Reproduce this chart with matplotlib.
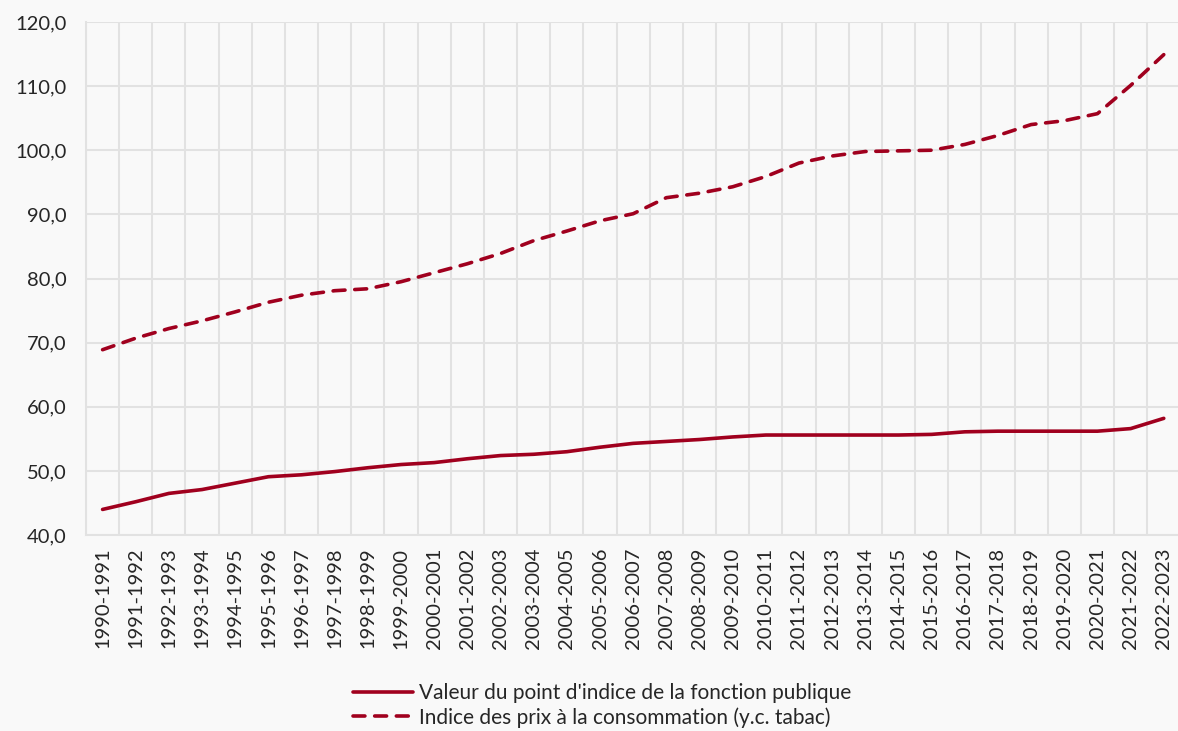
import numpy as np
import matplotlib
matplotlib.use("Agg")
import matplotlib.pyplot as plt
from matplotlib.ticker import FuncFormatter

# Séries annuelles (base 100 en 2015)
annees = [f"{a}-{a + 1}" for a in range(1990, 2023)]

point_indice = [44.0, 45.2, 46.5, 47.1, 48.1, 49.1, 49.4, 49.9, 50.5, 51.0,
                51.3, 51.9, 52.4, 52.6, 53.0, 53.7, 54.3, 54.6, 54.9, 55.3,
                55.6, 55.6, 55.6, 55.6, 55.6, 55.7, 56.1, 56.2, 56.2, 56.2,
                56.2, 56.6, 58.2]

ipc = [68.9, 70.7, 72.2, 73.4, 74.8, 76.3, 77.4, 78.1, 78.4, 79.5,
       80.9, 82.3, 83.9, 85.9, 87.4, 89.0, 90.1, 92.6, 93.3, 94.3,
       95.9, 98.0, 99.1, 99.8, 99.9, 100.0, 100.9, 102.3, 104.0, 104.6,
       105.7, 110.1, 114.9]

labels = ["Valeur du point d'indice de la fonction publique",
          "Indice des prix à la consommation (y.c. tabac)"]

# --- style ---
ROUGE = "#A0001E"
GRILLE = "#E2E2E2"
FOND = "#F9F9F9"
TEXTE = "#262626"

plt.rcParams["font.family"] = ["Lato", "DejaVu Sans"]
plt.rcParams["font.size"] = 14.5

fig = plt.figure(figsize=(11.78, 7.31), dpi=100, facecolor=FOND)
ax = fig.add_axes([0.073, 0.268, 0.929, 0.702], facecolor=FOND)

x = np.arange(len(annees))
ax.plot(x, point_indice, color=ROUGE, lw=2.6, solid_capstyle="round",
        solid_joinstyle="round", label=labels[0])
ax.plot(x, ipc, color=ROUGE, lw=2.6, linestyle=(0, (3.3, 2.7)),
        dash_capstyle="round", label=labels[1])

ax.set_xlim(-0.5, len(annees) - 0.5)
ax.set_ylim(40, 120)
ax.set_yticks(np.arange(40, 121, 10))
ax.yaxis.set_major_formatter(FuncFormatter(lambda v, p: f"{v:.1f}".replace(".", ",")))

ax.set_xticks(x)
ax.set_xticklabels(annees, rotation=90)
ax.set_xticks(np.arange(-0.5, len(annees), 1), minor=True)

ax.grid(axis="y", color=GRILLE, lw=1.5)
ax.grid(axis="x", which="minor", color=GRILLE, lw=1.5)
ax.set_axisbelow(True)

ax.tick_params(axis="both", which="both", length=0, colors=TEXTE, labelsize=14.5)
ax.tick_params(axis="y", pad=14)
ax.tick_params(axis="x", pad=9)

for side in ["top", "right"]:
    ax.spines[side].set_visible(False)
for side in ["left", "bottom"]:
    ax.spines[side].set_color(GRILLE)
    ax.spines[side].set_linewidth(1.5)

fig.legend(loc="lower center", bbox_to_anchor=(0.511, -0.021), frameon=False,
           fontsize=15, handlelength=2.9, handletextpad=0.25,
           labelspacing=0.2, labelcolor=TEXTE)

fig.savefig("out.png", dpi=100, facecolor=FOND)
